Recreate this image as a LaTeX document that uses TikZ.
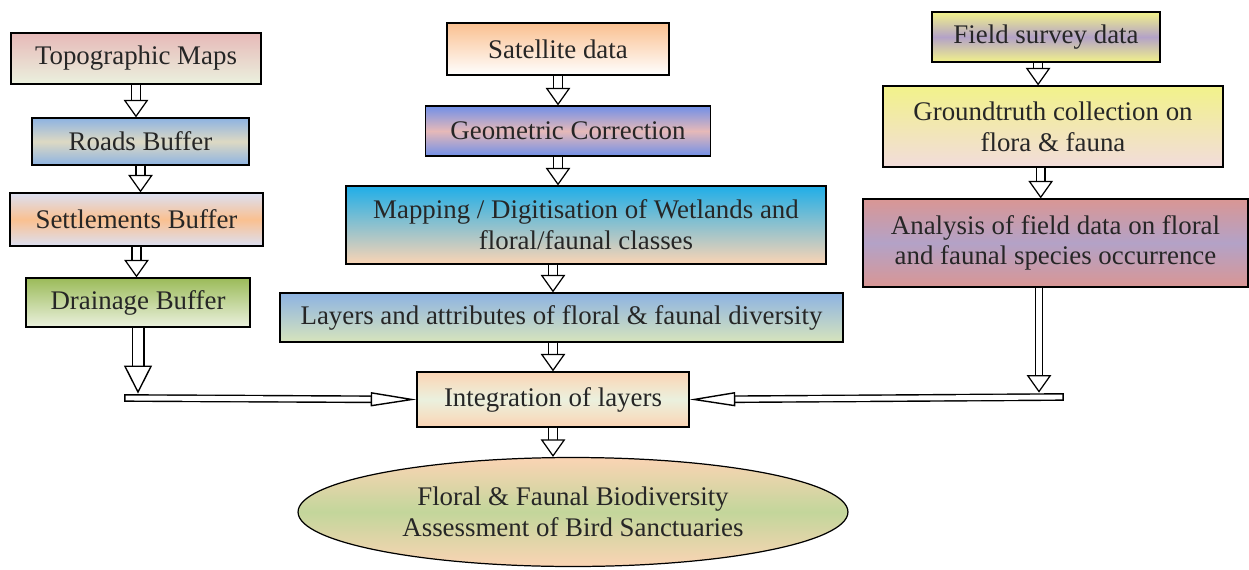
\documentclass[tikz,border=0pt]{standalone}
\usepackage{fontspec}
\setmainfont{Liberation Serif}
\usetikzlibrary{positioning,calc,arrows.meta,shapes.geometric}
\tikzset{>=stealth}
\definecolor{rosy}{HTML}{E6B9B8}
\definecolor{palegreen}{HTML}{EBF1DE}
\definecolor{skyblue}{HTML}{8DB3E2}
\definecolor{tan}{HTML}{DDD9C3}
\definecolor{lilac}{HTML}{DCE0F2}
\definecolor{apricot}{HTML}{FAC090}
\definecolor{olive}{HTML}{9BBB59}
\definecolor{cyanblue}{HTML}{1FAEE8}
\definecolor{peach}{HTML}{FBD4B4}
\definecolor{leaf}{HTML}{C3D69B}
\definecolor{lightleaf}{HTML}{D7E4BC}
\definecolor{lemon}{HTML}{F2F28A}
\definecolor{lavender}{HTML}{B3A2C7}
\definecolor{blush}{HTML}{F2DCDB}
\definecolor{brick}{HTML}{D99694}

\begin{document}
\begin{tikzpicture}[x=0.02cm,y=-0.02cm,
  box/.style={draw, line width=0.7pt, align=center, inner sep=2pt,
    font=\fontsize{15.3}{17.5}\selectfont, text=black!85},
  blockarrow/.style={double=white, double distance=4.3pt, line width=0.7pt,
    -{Triangle[fill=white, length=10pt, width=14pt, line width=0.7pt]}},
  widearrow/.style={double=white, double distance=5.8pt, line width=0.8pt,
    -{Triangle[fill=white, length=16pt, width=16pt, line width=0.8pt]}},
  thinbar/.style={double=white, double distance=2.8pt, line width=0.8pt, line cap=rect,
    -{Triangle[fill=white, length=26pt, width=8pt, line width=0.8pt]}}]
\useasboundingbox (0,0) rectangle (1249,569);

% left column
\node[box, minimum width=5cm, minimum height=1.02cm, top color=rosy, bottom color=palegreen] (topo) at (136,58.5) {Topographic Maps};
\node[box, minimum width=4.34cm, minimum height=0.94cm, top color=skyblue, bottom color=skyblue, middle color=tan] (roads) at (140.5,141.5) {Roads Buffer};
\node[box, minimum width=5.06cm, minimum height=1.06cm, top color=lilac, bottom color=lilac, middle color=apricot] (settle) at (136.5,219.5) {Settlements Buffer};
\node[box, minimum width=4.48cm, minimum height=0.98cm, top color=olive, bottom color=palegreen] (drain) at (138,302.5) {Drainage Buffer};

% middle column
\node[box, minimum width=4.44cm, minimum height=1.04cm, top color=apricot, bottom color=white] (sat) at (558,49) {Satellite data};
\node[box, minimum width=5.7cm, minimum height=1.0cm, top color=skyblue!80!blue, bottom color=skyblue!80!blue, middle color=rosy] (geo) at (568,131) {Geometric Correction};
\node[box, minimum width=9.6cm, minimum height=1.56cm, top color=cyanblue, bottom color=peach] (mapping) at (586,225) {Mapping / Digitisation of Wetlands and\\ floral/faunal classes};
\node[box, minimum width=11.26cm, minimum height=0.98cm, top color=skyblue, bottom color=lightleaf] (layers) at (561.5,317.5) {Layers and attributes of floral \& faunal diversity};
\node[box, minimum width=5.44cm, minimum height=1.1cm, top color=peach, bottom color=peach, middle color=palegreen] (integ) at (553,399.5) {Integration of layers};
\node[box, ellipse, minimum width=11cm, minimum height=2.18cm, top color=peach, bottom color=peach, middle color=leaf] (result) at (573,512) {Floral \& Faunal Biodiversity\\ Assessment of Bird Sanctuaries};

% right column
\node[box, minimum width=4.56cm, minimum height=1.0cm, top color=lemon, bottom color=lemon, middle color=lavender] (field) at (1046,37) {Field survey data};
\node[box, minimum width=6.8cm, minimum height=1.62cm, top color=lemon, bottom color=blush] (ground) at (1053,126.5) {Groundtruth collection on\\ flora \& fauna};
\node[box, minimum width=7.7cm, minimum height=1.76cm, top color=brick, bottom color=brick, middle color=lavender] (analysis) at (1055.5,243) {Analysis of field data on floral\\ and faunal species occurrence};

% arrows
\draw[blockarrow] (topo.south) -- (topo.south |- roads.north);
\draw[blockarrow] (roads.south) -- (roads.south |- settle.north);
\draw[blockarrow] (settle.south) -- (settle.south |- drain.north);
\draw[blockarrow] (sat.south) -- (sat.south |- geo.north);
\draw[blockarrow] (geo.south -| sat.south) -- (mapping.north -| sat.south);
\draw[blockarrow] (mapping.south -| integ.north) -- (layers.north -| integ.north);
\draw[blockarrow] (layers.south -| integ.north) -- (integ.north);
\draw[blockarrow] (integ.south) -- (integ.south |- result.north);
\draw[blockarrow] ([xshift=-4.5pt]field.south) -- ([xshift=-4.5pt]field.south |- ground.north);
\draw[blockarrow] ([xshift=-7pt]ground.south) -- ([xshift=-7pt]ground.south |- analysis.north);

% side branches into the integration box
\coordinate (lbar) at (128,398);
\coordinate (ldrop) at (138,398);
\coordinate (rbar) at (1060,397);
\coordinate (rdrop) at (1039,397);
\draw[thinbar] (lbar) -- (integ.west);
\draw[widearrow] (drain.south -| ldrop) -- ([yshift=2.5pt]ldrop);
\draw[thinbar] (rbar) -- (integ.east);
\draw[blockarrow, double distance=3pt, line width=1pt] (analysis.south -| rdrop) -- ([yshift=2.5pt]rdrop);
\end{tikzpicture}
\end{document}
